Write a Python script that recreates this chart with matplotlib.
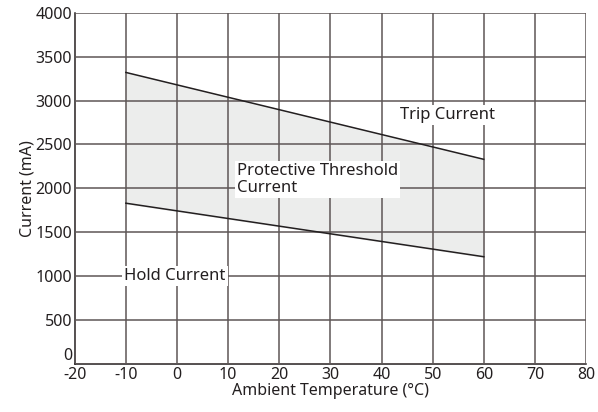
import matplotlib.pyplot as plt

plt.rcParams['font.family'] = ['Noto Sans', 'DejaVu Sans']
plt.rcParams['axes.unicode_minus'] = False

temp = [-10, 60]
trip_current = [3320, 2330]
hold_current = [1830, 1220]

fig = plt.figure(figsize=(5.98, 4.12), dpi=100)
ax = fig.add_axes([0.125, 0.117, 0.855, 0.852])

ax.fill_between(temp, hold_current, trip_current, color='#ecedec', zorder=1)
ax.plot(temp, trip_current, color='#231f20', lw=1.1, zorder=3)
ax.plot(temp, hold_current, color='#231f20', lw=1.1, zorder=3)

ax.set_xlim(-20, 80)
ax.set_ylim(0, 4000)
ax.set_xticks(range(-20, 81, 10))
ax.set_yticks(range(0, 4001, 500))
ax.grid(True, color='#5e5656', lw=1.1, zorder=2)
ax.set_axisbelow(False)
ax.tick_params(length=0, labelsize=11.5, colors='#231f20', pad=2)
for s in ['top', 'right']:
    ax.spines[s].set_visible(False)
for s in ['left', 'bottom']:
    ax.spines[s].set_color('#231f20')
    ax.spines[s].set_linewidth(1.1)

# lift the "0" label so it clears the "-20" below it
ax.get_yticklabels()[0].set_va('bottom')

ax.set_xlabel('Ambient Temperature (°C)', fontsize=11.5, color='#231f20', labelpad=0)
ax.set_ylabel('Current (mA)', fontsize=11.5, color='#231f20', labelpad=0)

box = dict(facecolor='white', edgecolor='none', pad=1.5)
ax.text(43.7, 2830, 'Trip Current', fontsize=12, color='#231f20', va='center', bbox=box, zorder=4)
ax.text(11.8, 2100, 'Protective Threshold\nCurrent', fontsize=12, color='#231f20',
        va='center', linespacing=1.05, bbox=box, zorder=4)
ax.text(-0.4, 1000, 'Hold Current', fontsize=12, color='#231f20', ha='center', va='center',
        bbox=box, zorder=4)

fig.savefig('out.png', dpi=100)
